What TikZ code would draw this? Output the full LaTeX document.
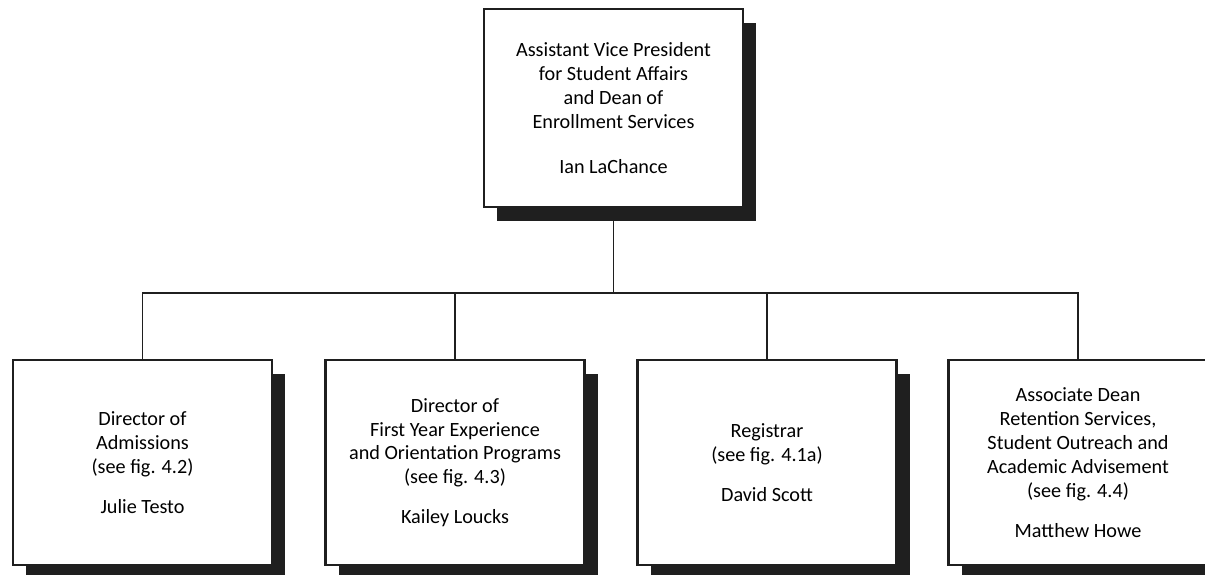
\documentclass[tikz,border=0pt]{standalone}
\usepackage{fontspec}
\setmainfont{Carlito}
\usetikzlibrary{shadows}
\begin{document}
\begin{tikzpicture}
[
unit/.style={rectangle, draw=black!88, fill=white, line width=1.3pt, align=center,
      font=\fontsize{11.5}{13.6}\selectfont,
      drop shadow={shadow xshift=0.26cm, shadow yshift=-0.29cm, fill=black!88, opacity=1}},
head/.style={unit, minimum width=5.18cm, minimum height=3.96cm},
dept/.style={unit, minimum width=5.18cm, minimum height=4.1cm},
link/.style={draw=black!88, line width=1.1pt},
]
\useasboundingbox (0,0) rectangle (24.1,-11.5);

\coordinate (bar) at (12.27,-5.86);

\node at (12.27,-2.16) [head] (avp) {Assistant Vice President\\for Student Affairs\\and Dean of\\Enrollment Services\\[12pt]Ian LaChance};

\draw[link] (avp.south) -- (bar);

\node at (2.85,-9.25) [dept] (adm) {Director of\\Admissions\\(see fig. 4.2)\\[9pt]Julie Testo};
\node at (9.1,-9.25) [dept] (fye) {Director of\\First Year Experience\\and Orientation Programs\\(see fig. 4.3)\\[9pt]Kailey Loucks};
\node at (15.34,-9.25) [dept] (reg) {Registrar\\(see fig. 4.1a)\\[9pt]David Scott};
\node at (21.56,-9.25) [dept] (ret) {Associate Dean\\Retention Services,\\Student Outreach and\\Academic Advisement\\(see fig. 4.4)\\[9pt]Matthew Howe};

\draw[link] (adm.north) -- (adm.north |- bar) -- (ret.north |- bar) -- (ret.north);
\draw[link] (fye.north) -- (fye.north |- bar);
\draw[link] (reg.north) -- (reg.north |- bar);

\end{tikzpicture}
\end{document}
